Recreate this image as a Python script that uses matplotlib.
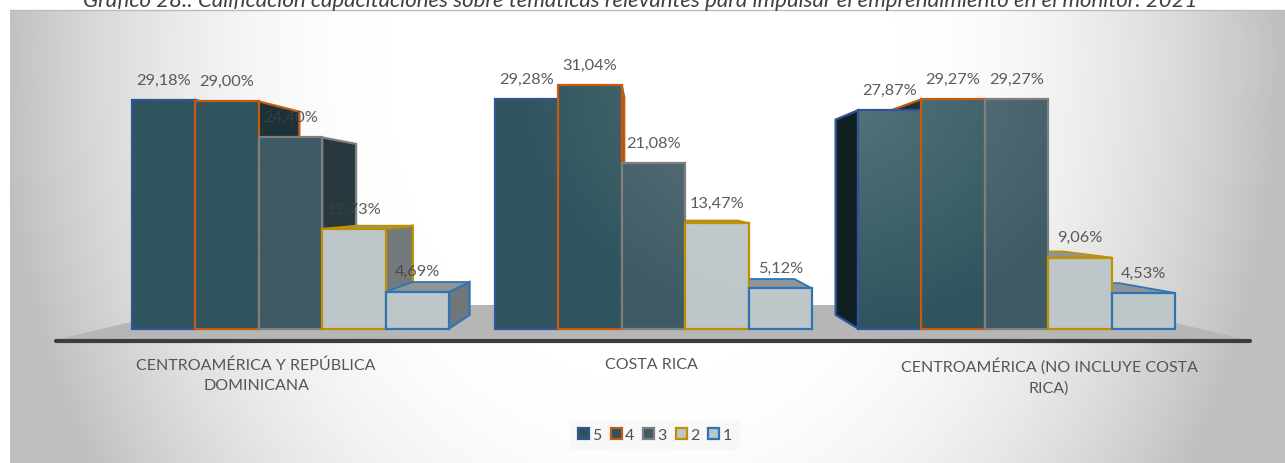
"""Calificacion de capacitaciones: pseudo 3D grouped bars."""

from __future__ import annotations

import matplotlib

matplotlib.use("Agg")

import matplotlib.pyplot as plt
import numpy as np
from matplotlib.colors import to_rgb
from matplotlib.patches import Patch, Polygon, Rectangle

FONT = "Lato"

TITLE = (
    "Gráfico 28.: Calificación capacitaciones sobre temáticas relevantes "
    "para impulsar el emprendimiento en el monitor. 2021"
)
CATEGORIES = [
    "CENTROAMÉRICA Y REPÚBLICA\nDOMINICANA",
    "COSTA RICA",
    "CENTROAMÉRICA (NO INCLUYE COSTA\nRICA)",
]
SERIES = ["5", "4", "3", "2", "1"]
VALUES = [
    [29.18, 29.00, 24.40, 12.73, 4.69],
    [29.28, 31.04, 21.08, 13.47, 5.12],
    [27.87, 29.27, 29.27, 9.06, 4.53],
]

EDGES = ["#2f5597", "#c55a11", "#7f7f7f", "#bf9000", "#2e75b6"]
FRONTS = ["#2f545d", "#2f545d", "#3e5a64", "#bdc6c9", "#bdc6c9"]
SIDES = ["#121f23", "#1c3138", "#27383e", "#737a7c", "#70777a"]
TOPS = ["#2f545d", "#2f545d", "#3e5a64", "#8f9597", "#8f9597"]

W, H = 1285, 464
PX_PER_GROUP = 363.0
PX_PER_PCT = 7.83
GROUP0_PX = 290.5
BASE_PX = 329.5
BAR_W = 63.4 / PX_PER_GROUP
VP = ((645 - GROUP0_PX) / PX_PER_GROUP, (BASE_PX - 200) / PX_PER_PCT)
DEPTH = 0.105


def to_x(px):
    return (px - GROUP0_PX) / PX_PER_GROUP


def to_y(py):
    return (BASE_PX - py) / PX_PER_PCT


def back(x, y):
    return x + DEPTH * (VP[0] - x), y + DEPTH * (VP[1] - y)


def background(ax):
    # grid runs past the canvas so resampling leaves no pale edge
    yy, xx = np.mgrid[0:H + 40:2, 0:W + 40:2]
    dist = np.hypot((xx - 640) / 640, (yy - 60) / 800)
    t = np.clip((dist - 0.4) / 0.6, 0, 1) ** 1.8
    shade = 1.0 - 0.25 * t
    img = np.dstack([shade, shade, shade])
    ax.imshow(
        img,
        extent=(to_x(0), to_x(W + 40), to_y(H + 40), to_y(0)),
        origin="upper",
        aspect="auto",
        interpolation="nearest",
        zorder=0,
    )
    # white page margin above and left of the chart area
    ax.add_patch(
        Rectangle((to_x(-5), to_y(11)), to_x(W + 5) - to_x(-5), to_y(-5) - to_y(11), fc="white", ec="none", zorder=0.5)
    )
    ax.add_patch(
        Rectangle((to_x(-5), to_y(H + 5)), to_x(10) - to_x(-5), to_y(-5) - to_y(H + 5), fc="white", ec="none", zorder=0.5)
    )
    ax.plot([to_x(10), to_x(W)], [to_y(11), to_y(11)], color="#bdbdbd", lw=1, zorder=0.6)


def front_face(ax, x0, x1, val, colour, edge, z):
    # faces pick up a soft highlight around the middle of the chart
    xs = np.linspace(x0, x1, 24)
    ys = np.linspace(val, 0, 60)
    gx, gy = np.meshgrid(xs, ys)
    px = gx * PX_PER_GROUP + GROUP0_PX
    py = BASE_PX - gy * PX_PER_PCT
    glow = np.clip(1 - np.hypot((px - 820) / 310, (py - 85) / 250), 0, 1)
    base = np.array(to_rgb(colour))
    img = base + (glow[..., None] * 0.2 * (1 - base) * (1.0 if base[0] < 0.5 else 0.6))
    ax.imshow(img, extent=(x0, x1, 0, val), origin="upper", aspect="auto", zorder=z)
    ax.add_patch(
        Rectangle((x0, 0), x1 - x0, val, fc="none", ec=edge, lw=1.6, zorder=z + 0.1)
    )


def draw_group(ax, g, vals):
    start = g - 2.5 * BAR_W
    lefts = [start + i * BAR_W for i in range(len(vals))]
    # farthest from the vanishing point first, so the nearer bars cover them
    order = sorted(
        range(len(vals)), key=lambda i: -abs(lefts[i] + BAR_W / 2 - VP[0])
    )
    for n, i in enumerate(order):
        x0, x1, v = lefts[i], lefts[i] + BAR_W, vals[i]
        z = 3 + n * 0.1
        side_x = x1 if x1 < VP[0] else x0 if x0 > VP[0] else None
        if side_x is not None:
            pts = [(side_x, 0), (side_x, v), back(side_x, v), back(side_x, 0)]
            ax.add_patch(
                Polygon(pts, fc=SIDES[i], ec=EDGES[i], lw=1.6, joinstyle="miter", zorder=z)
            )
        if v < VP[1]:
            pts = [(x0, v), (x1, v), back(x1, v), back(x0, v)]
            ax.add_patch(
                Polygon(pts, fc=TOPS[i], ec=EDGES[i], lw=1.3, joinstyle="miter", zorder=z)
            )
    for i, v in enumerate(vals):
        front_face(ax, lefts[i], lefts[i] + BAR_W, v, FRONTS[i], EDGES[i], 6 + i * 0.2)
        ax.annotate(
            f"{v:.2f}%".replace(".", ","),
            (lefts[i] + BAR_W / 2, v),
            xytext=(0, 14.7),
            textcoords="offset points",
            ha="center",
            va="center",
            fontsize=11.8,
            family=FONT,
            color="#404040",
            alpha=0.85,
            zorder=9,
        )


def main() -> None:
    # canvas grey matches the lower edge of the gradient
    fig = plt.figure(figsize=(W / 100, H / 100), dpi=100, facecolor="#d4d4d4")
    ax = fig.add_axes([0, 0, 1, 1])
    background(ax)

    # floor and its front rim
    floor = [(55, 341), (202, 306), (1098, 306), (1248, 341)]
    ax.add_patch(
        Polygon(
            [(to_x(a), to_y(b)) for a, b in floor],
            fc="#b6b6b6",
            ec="none",
            zorder=1,
        )
    )
    ax.plot(
        [to_x(56), to_x(1250)],
        [to_y(342), to_y(342)],
        color="#3d3d3d",
        lw=3,
        solid_capstyle="round",
        zorder=2,
    )

    for g, vals in enumerate(VALUES):
        draw_group(ax, g, vals)

    for px, label in zip([256, 651, 1049], CATEGORIES):
        ax.text(
            to_x(px),
            to_y(358),
            label,
            ha="center",
            va="top",
            fontsize=11.5,
            family=FONT,
            color="#555555",
            linespacing=1.6,
            zorder=9,
        )

    handles = [
        Patch(facecolor=f, edgecolor=e, linewidth=1.6) for f, e in zip(FRONTS, EDGES)
    ]
    leg = ax.legend(
        handles,
        SERIES,
        ncol=5,
        loc="center",
        bbox_to_anchor=(655 / W, 1 - 436 / H),
        prop={"family": FONT, "size": 11.5},
        labelcolor="#505050",
        frameon=True,
        fancybox=False,
        framealpha=0.45,
        facecolor="#f2f2f2",
        edgecolor="none",
        handlelength=0.7,
        handleheight=0.7,
        handletextpad=0.2,
        columnspacing=0.55,
        borderpad=0.5,
    )
    leg.set_zorder(9)

    fig.text(
        640 / W,
        1 - 1 / H,
        TITLE,
        ha="center",
        va="center",
        fontsize=16,
        style="italic",
        family=FONT,
        color="#404040",
    )

    ax.set_xlim(to_x(0), to_x(W))
    ax.set_ylim(to_y(H), to_y(0))
    ax.axis("off")
    fig.savefig("out.png", dpi=100, facecolor=fig.get_facecolor())


if __name__ == "__main__":
    main()
